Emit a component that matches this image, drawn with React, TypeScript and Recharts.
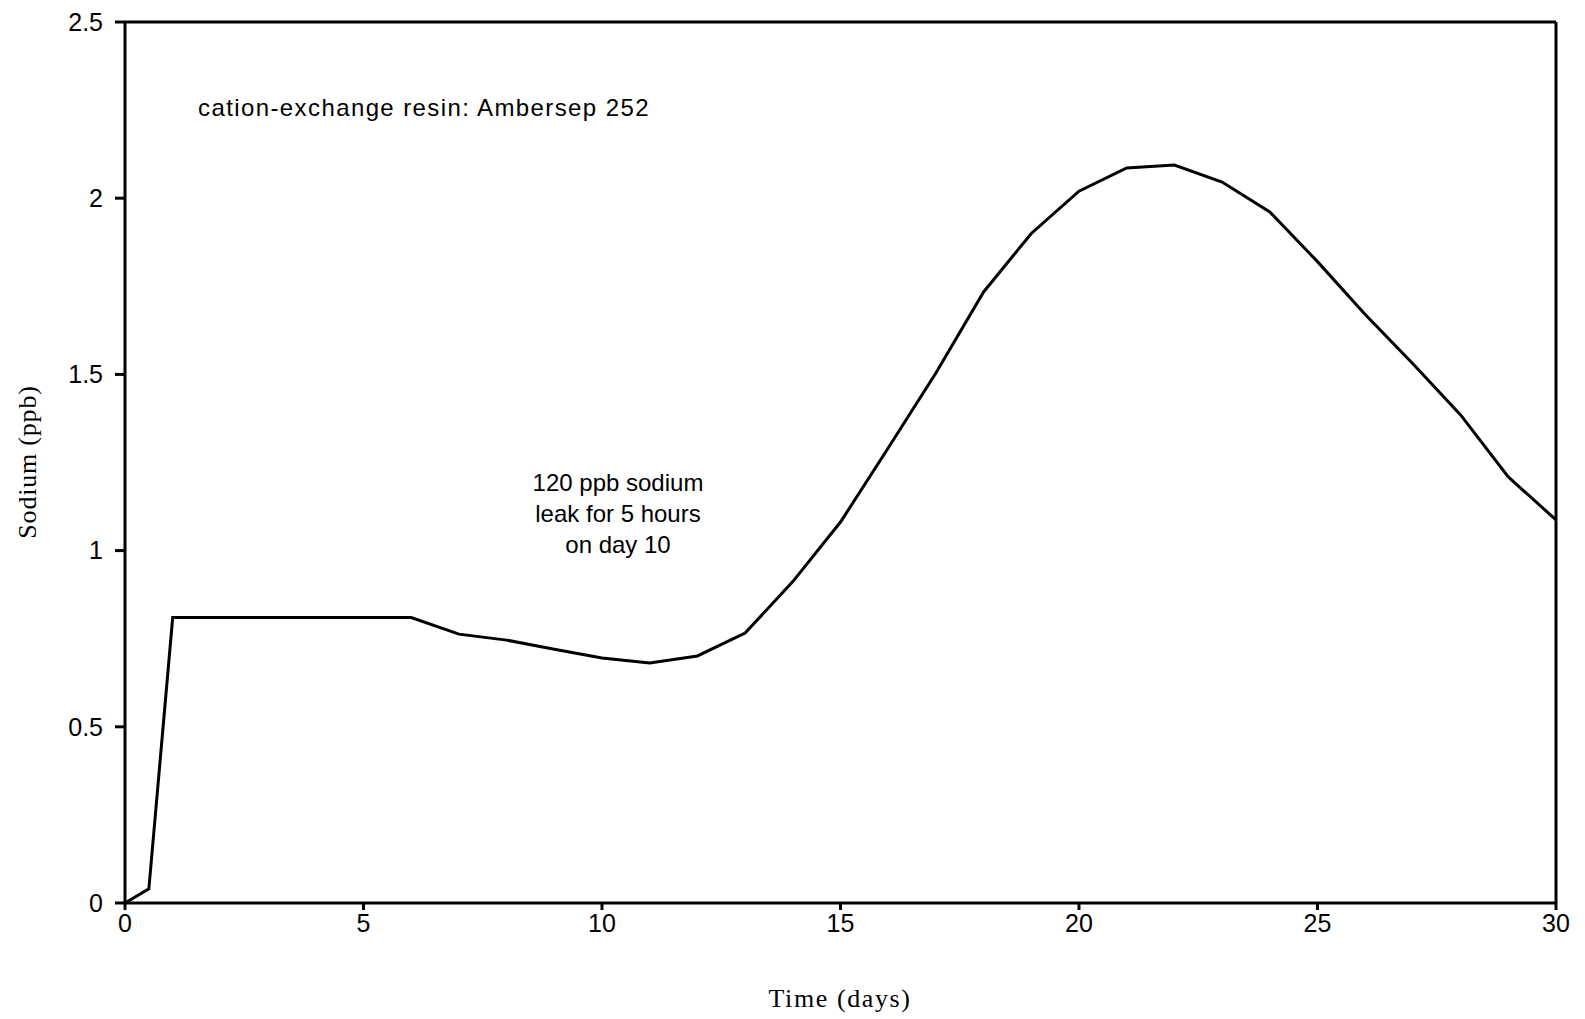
import { LineChart, Line, XAxis, YAxis, ReferenceLine } from 'recharts';

// days sampled in the run
const days = [0, 0.5, 1, 2, 3, 4, 5, 6, 7, 8, 9, 10, 11, 12, 13, 14, 15, 16, 17, 18, 19, 20, 21, 22, 23, 24, 25, 26, 27, 28, 29, 30];
// effluent sodium, ppb
const sodium = [0, 0.04, 0.81, 0.81, 0.81, 0.81, 0.81, 0.81, 0.763, 0.746, 0.72, 0.695, 0.681, 0.701, 0.766, 0.912, 1.081, 1.291, 1.504, 1.734, 1.9, 2.02, 2.086, 2.094, 2.046, 1.961, 1.82, 1.67, 1.53, 1.385, 1.209, 1.087];

const xTicks = [0, 5, 10, 15, 20, 25, 30];
const yTicks = [0, 0.5, 1, 1.5, 2, 2.5];

const noteLines = ['120 ppb sodium', 'leak for 5 hours', 'on day 10'];

const data = days.map((d, i) => ({ day: d, na: sodium[i] }));

const sans = '"Liberation Sans", Arial, sans-serif';
const serif = '"Liberation Serif", "Times New Roman", serif';
const axisStroke = { stroke: '#000', strokeWidth: 3 };

export default function App() {
  return (
    <div style={{ position: 'absolute', left: 0, top: 0, background: '#fff' }}>
      <LineChart
        width={1585}
        height={1019}
        data={data}
        margin={{ top: 22, right: 29, bottom: 56, left: 25 }}
      >
        <XAxis
          type="number"
          dataKey="day"
          domain={[0, 30]}
          ticks={xTicks}
          height={60}
          axisLine={axisStroke}
          tickLine={axisStroke}
          tickSize={7}
          tickMargin={4}
          tick={{ fill: '#000', fontSize: 25, fontFamily: sans }}
        />
        <YAxis
          type="number"
          domain={[0, 2.5]}
          ticks={yTicks}
          width={100}
          axisLine={axisStroke}
          tickLine={axisStroke}
          tickSize={10}
          tickMargin={12}
          tick={{ fill: '#000', fontSize: 25, fontFamily: sans }}
        />
        <ReferenceLine y={2.5} stroke="#000" strokeWidth={3} />
        <ReferenceLine x={30} stroke="#000" strokeWidth={3} />
        <Line
          type="linear"
          dataKey="na"
          stroke="#000"
          strokeWidth={3}
          dot={false}
          isAnimationActive={false}
        />
        <text x={198} y={116} fontSize={24} fontFamily={sans} letterSpacing={1.4} fill="#000">
          cation-exchange resin: Ambersep 252
        </text>
        <text x={618} y={491} fontSize={24} fontFamily={sans} textAnchor="middle" fill="#000">
          {noteLines.map((t, i) => (
            <tspan key={t} x={618} dy={i === 0 ? 0 : 31}>{t}</tspan>
          ))}
        </text>
        <text x={840} y={1007} fontSize={26} fontFamily={serif} letterSpacing={1.6} textAnchor="middle" fill="#000">
          Time (days)
        </text>
        <text
          x={36}
          y={462}
          fontSize={26}
          fontFamily={serif}
          letterSpacing={0.8}
          textAnchor="middle"
          transform="rotate(-90 36 462)"
          fill="#000"
        >
          Sodium (ppb)
        </text>
      </LineChart>
    </div>
  );
}
